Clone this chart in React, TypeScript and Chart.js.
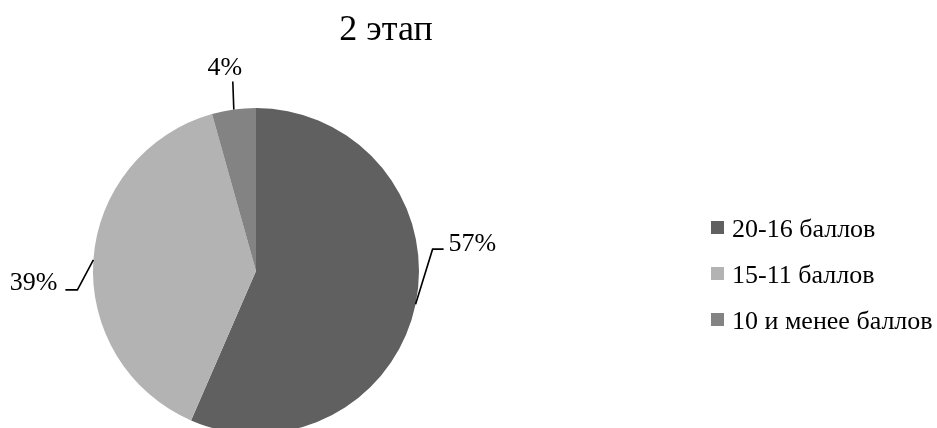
import React, { useEffect, useRef } from "react";
import { Chart, registerables } from "chart.js";

Chart.register(...registerables);

const title = "2 этап";
const categories = ["20-16 баллов", "15-11 баллов", "10 и менее баллов"];
const values = [13, 9, 1];
const colors = ["#606060", "#b3b3b3", "#838383"];

const FONT = '"Liberation Serif", "Times New Roman", serif';

const overlayPlugin = {
  id: "overlay",
  afterDraw(chart: any) {
    const ctx = chart.ctx;
    const meta = chart.getDatasetMeta(0);
    const total = values.reduce((a, b) => a + b, 0);
    // title
    ctx.save();
    ctx.fillStyle = "#000";
    ctx.font = `36px ${FONT}`;
    ctx.textAlign = "center";
    ctx.textBaseline = "alphabetic";
    ctx.fillText(title, 386, 40);

    // labels with leader lines
    const leaders = [
      { elbow: [17, -55], tail: 11, gap: 5, dir: 1, tdy: 2 },
      { elbow: [-16, 30], tail: -12, gap: 8, dir: -1, tdy: 0 },
      { elbow: [-1, -28], tail: 0, gap: 7, dir: 0, tdy: 0 },
    ];
    ctx.strokeStyle = "#000";
    ctx.lineWidth = 1.6;
    ctx.font = `26px ${FONT}`;
    meta.data.forEach((arc: any, i: number) => {
      const { x, y, startAngle, endAngle, outerRadius } = arc.getProps(
        ["x", "y", "startAngle", "endAngle", "outerRadius"],
        true
      );
      const mid = (startAngle + endAngle) / 2;
      const px = x + Math.cos(mid) * outerRadius;
      const py = y + Math.sin(mid) * outerRadius;
      const L = leaders[i];
      const ex = px + L.elbow[0];
      const ey = py + L.elbow[1];
      const tx = ex + L.tail;
      ctx.beginPath();
      ctx.moveTo(px, py);
      ctx.lineTo(ex, ey);
      ctx.lineTo(tx, ey);
      ctx.stroke();
      const text = Math.round((values[i] / total) * 100) + "%";
      if (L.dir === 1) {
        ctx.textAlign = "left";
        ctx.fillText(text, tx + L.gap, ey + L.tdy);
      } else if (L.dir === -1) {
        ctx.textAlign = "right";
        ctx.fillText(text, tx - L.gap, ey + L.tdy);
      } else {
        ctx.textAlign = "center";
        ctx.fillText(text, tx - 8, ey - L.gap);
      }
    });

    // legend
    ctx.font = `26px ${FONT}`;
    ctx.textAlign = "left";
    const baselines = [237, 283, 329];
    categories.forEach((c, i) => {
      ctx.fillStyle = colors[i];
      ctx.fillRect(711, baselines[i] - 16, 13, 13);
      ctx.fillStyle = "#000";
      ctx.fillText(c, 732, baselines[i]);
    });
    ctx.restore();
  },
};

export default function App() {
  const ref = useRef<HTMLCanvasElement>(null);
  useEffect(() => {
    if (!ref.current) return;
    const chart = new Chart(ref.current, {
      type: "pie",
      data: {
        labels: categories,
        datasets: [
          {
            data: values,
            backgroundColor: colors,
            borderWidth: 0,
          },
        ],
      },
      options: {
        responsive: false,
        animation: false,
        devicePixelRatio: 1,
        layout: { padding: { left: 93, right: 518, top: 108, bottom: 6 } },
        plugins: {
          legend: { display: false },
          tooltip: { enabled: false },
          title: { display: false },
        },
      },
      plugins: [overlayPlugin],
    });
    return () => chart.destroy();
  }, []);
  return (
    <div
      style={{
        position: "fixed",
        left: 0,
        top: 0,
        width: 937,
        height: 428,
        overflow: "hidden",
        background: "#fff",
      }}
    >
      <canvas ref={ref} width={937} height={440} style={{ display: "block" }} />
    </div>
  );
}
